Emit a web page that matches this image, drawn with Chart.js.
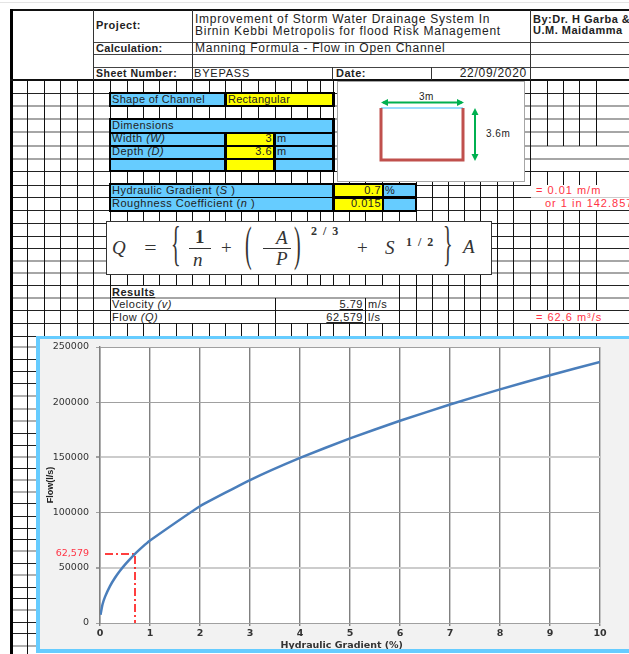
<!DOCTYPE html>
<html>
<head>
<meta charset="utf-8">
<title>Manning Formula - Flow in Open Channel</title>
<script src="https://cdn.jsdelivr.net/npm/chart.js@4"></script>
<style>
  html, body { margin: 0; padding: 0; background: #fff; overflow: hidden; }
  #sheet { position: relative; width: 629px; height: 654px; overflow: hidden; font-family: "Liberation Sans", Arial, sans-serif; color: #222; }
  #sheet div, #sheet span.t { position: absolute; white-space: nowrap; }
  #sheet span.t { font-size: 11px; letter-spacing: 0.5px; line-height: 14px; }
  #frame { left: 36px; top: 336px; width: 640px; height: 310px; border: 4px solid #66ccff; border-top-width: 3px; background: #f2f2f2; }
  #myChart { position: absolute; left: 0; top: 0; }
</style>
</head>
<body>
<div id="sheet"></div>
<script>
// chart data
let gradient = [0.01, 0.05, 0.1, 0.2, 0.3, 0.4, 0.5, 0.6, 0.7, 0.8, 0.9, 1, 2, 3, 4, 5, 6, 7, 8, 9, 10];
let flow = [7480, 16700, 23650, 33450, 41000, 47300, 52900, 57900, 62579, 66900, 70960, 74800, 105800, 129500, 149600, 167300, 183200, 197900, 211600, 224400, 236500];
let guideX = [0.1, 0.7, 0.7];
let guideY = [62579, 62579, 0];
let markerFlow = 62579;
let markerLabel = '62,579';

// sheet grid
let cols = [27, 44, 60, 77, 93, 110, 127, 143, 159, 176, 192, 209, 225, 241, 258, 275, 291, 307, 320, 333, 349, 365, 382, 399, 416, 432, 448, 464, 480, 497, 513, 530, 547, 563, 579, 596];
let rows = [93, 106, 119, 132, 146, 159, 171, 185, 197, 210, 223, 236, 248, 261, 273, 285, 298, 310, 323, 336];
let grayRows = [106, 119, 132, 146, 159, 261, 273, 298];
let sideRows = [347, 359, 371, 383, 396, 409, 421, 433, 445, 457, 468, 480, 492, 503, 516, 528, 539, 551, 563, 575, 587, 598, 610, 622, 633, 646];
let sideGray = [347, 396, 409, 421, 457, 480, 492, 551, 575, 610, 646];

let sheet = document.getElementById('sheet');

function box(x0, y0, x1, y1, color) {
  let d = document.createElement('div');
  d.style.cssText = 'left:' + x0 + 'px;top:' + y0 + 'px;width:' + (x1 - x0) + 'px;height:' + (y1 - y0) + 'px;background:' + color;
  sheet.appendChild(d);
  return d;
}

function text(x, y, str, css, right) {
  let s = document.createElement('span');
  s.className = 't';
  s.innerHTML = str;
  s.style.top = (y - 7) + 'px';
  if (right) s.style.right = (629 - x) + 'px'; else s.style.left = x + 'px';
  if (css) s.style.cssText += css;
  sheet.appendChild(s);
  return s;
}

function segmentsFor(x) {
  if ([547, 563, 579, 596].includes(x)) return [[80, 146], [171, 185], [210, 310], [323, 336]];
  if (x == 530) return [[80, 185], [210, 310], [323, 336]];
  if (x == 110) return [[80, 336]];
  if (x == 275) return [[80, 285], [298, 336]];
  if (x == 365) return [[80, 285], [298, 336]];
  if (x > 110 && x < 399) return [[80, 285], [323, 336]];
  return [[80, 336]];
}

rows.forEach(y => {
  let gray = grayRows.includes(y);
  box(13, y - (gray ? 1 : 0), 629, y + 1, gray ? '#a6a6a6' : '#222');
});
sideRows.forEach(y => {
  let gray = sideGray.includes(y);
  box(13, y - (gray ? 1 : 0), 40, y + 1, gray ? '#b0b0b0' : '#222');
});
cols.forEach(x => {
  segmentsFor(x).forEach(s => box(x, s[0], x + 1, s[1], '#111'));
});
box(27, 336, 28, 654, '#111');

// header block
box(0, 2, 629, 3, '#e4e4e4');
box(13, 11, 629, 80, '#fff');
box(10, 9, 629, 11, '#111');
box(10, 9, 13, 654, '#000');
box(10, 79, 629, 81, '#111');
[42, 54, 67].forEach(y => box(93, y, 629, y + 1, '#444'));
[93, 192, 530].forEach(x => box(x, 10, x + 1, 80, '#333'));
[332, 431].forEach(x => box(x, 67, x + 1, 80, '#333'));

let bold = 'font-weight:bold;';
let wide = 'font-size:12px;letter-spacing:0.73px;';
text(96, 25, 'Project:', bold);
text(96, 48, 'Calculation:', bold + 'letter-spacing:0.3px;');
text(96, 73, 'Sheet Number:', bold + 'font-size:10.5px;');
text(195, 19, 'Improvement of Storm Water Drainage System In', wide);
text(195, 31, 'Birnin Kebbi Metropolis for flood Risk Management', wide);
text(195, 48, 'Manning Formula - Flow in Open Channel', wide);
text(194, 73, 'BYEPASS', 'letter-spacing:0.8px;');
text(336, 73, 'Date:', bold);
text(527, 73, '22/09/2020', wide, true);
text(533, 19, 'By:Dr. H Garba &amp;', bold);
text(533, 30, 'U.M. Maidamma', bold);

// input tables
let blue = '#66ccff', yellow = '#ffff00';
box(109, 92, 335, 107, '#000');
box(111, 94, 224, 105, blue);
box(227, 94, 332, 105, yellow);
text(112, 99, 'Shape of Channel', 'letter-spacing:0.3px;');
text(228, 99, 'Rectangular', 'letter-spacing:0.25px;');

box(109, 118, 335, 172, '#000');
box(111, 120, 332, 132, blue);
[[134, 145], [147, 158], [160, 170]].forEach(r => {
  box(111, r[0], 224, r[1], blue);
  box(227, r[0], 273, r[1], yellow);
  box(276, r[0], 332, r[1], blue);
});
text(112, 125, 'Dimensions', 'letter-spacing:0.45px;');
text(112, 138, 'Width <i>(W)</i>');
text(112, 151, 'Depth <i>(D)</i>');
text(272, 138, '3', '', true);
text(272, 151, '3.6', '', true);
text(277, 138, 'm');
text(277, 151, 'm');

box(109, 183, 417, 212, '#000');
box(111, 185, 332, 197, blue);
box(111, 198, 332, 210, blue);
box(335, 185, 382, 196, yellow);
box(335, 199, 382, 210, yellow);
box(384, 185, 415, 196, blue);
box(384, 199, 415, 210, blue);
text(112, 190, 'Hydraulic Gradient (<i>S</i> )');
text(112, 203, 'Roughness Coefficient (<i>n</i> )');
text(381, 190, '0.7', '', true);
text(381, 203, '0.015', '', true);
text(385, 190, '%');

// red notes on the right
box(531, 185, 629, 210, '#fff');
box(531, 311, 629, 323, '#fff');
box(531, 197, 629, 198, '#cccccc');
let red = 'color:#ff3344;letter-spacing:1px;';
text(536, 190, '=  0.01   m/m', red);
text(545, 203, 'or 1 in  142.8571', red);
text(536, 317, '=  62.6   m\u00b3/s', red);

// results
text(112, 292, 'Results', bold + 'text-decoration:underline;');
text(112, 304, 'Velocity <i>(v)</i>');
text(112, 317, 'Flow <i>(Q)</i>');
text(363, 304, '5.79', 'text-decoration:underline;', true);
text(363, 317, '62,579', 'text-decoration:underline;', true);
text(368, 304, 'm/s');
text(368, 317, 'l/s');

// channel sketch
let sketch = document.createElement('div');
sketch.style.cssText = 'left:337px;top:81px;width:187px;height:100px;';
sketch.innerHTML = '<svg width="188" height="101" xmlns="http://www.w3.org/2000/svg">' +
  '<rect x="0.5" y="0.5" width="187" height="100" fill="#fff" stroke="#a6a6a6"/>' +
  '<path d="M44 27 H126" stroke="#99ddff" stroke-width="2"/>' +
  '<path d="M44 27 V79 H126 V27" fill="none" stroke="#c0504d" stroke-width="3"/>' +
  '<path d="M46 21.5 H125" stroke="#00b050" stroke-width="2"/>' +
  '<path d="M44 21.5 L51 18 V25 Z M127 21.5 L120 18 V25 Z" fill="#00b050"/>' +
  '<path d="M138 30 V77" stroke="#00b050" stroke-width="2"/>' +
  '<path d="M138 27 L134.5 34 H141.5 Z M138 80 L134.5 73 H141.5 Z" fill="#00b050"/>' +
  '</svg>';
sheet.appendChild(sketch);
text(419, 97, '3m', 'font-size:10px;');
text(486, 134, '3.6m', 'font-size:10px;');

// formula box
box(106, 221, 492, 275, '#333');
box(107, 222, 491, 274, '#fff');
function mathText(x, y, str, css) {
  return text(x, y, str, 'font-family:\'Liberation Serif\',serif;letter-spacing:0;color:#333;' + (css || ''));
}
let big = 'font-size:19px;';
mathText(112, 248, 'Q', big + 'font-style:italic;');
mathText(145, 248, '=', big + 'transform:scaleX(1.15);');
mathText(171, 243, '{', 'font-size:20px;transform:scale(1,2.4);');
mathText(195, 237, '1', big + 'font-weight:bold;');
box(189, 248, 211, 249, '#333');
mathText(193, 260, 'n', big + 'font-style:italic;');
mathText(221, 248, '+', big);
mathText(245, 243, '(', 'font-size:20px;transform:scale(1,2.4);');
mathText(276, 238, 'A', big + 'font-style:italic;');
box(263, 248, 291, 249, '#333');
mathText(276, 259, 'P', big + 'font-style:italic;');
mathText(294, 243, ')', 'font-size:20px;transform:scale(1,2.4);');
mathText(311, 231, '2 &nbsp;/ &nbsp;3', 'font-size:12px;font-weight:bold;');
mathText(357, 248, '+', big);
mathText(385, 248, 'S', big + 'font-style:italic;');
mathText(406, 242, '1 &nbsp;/ &nbsp;2', 'font-size:12px;font-weight:bold;');
mathText(443, 243, '}', 'font-size:20px;transform:scale(1,2.4);');
mathText(463, 247, 'A', big + 'font-style:italic;');

// chart frame
let frame = document.createElement('div');
frame.id = 'frame';
frame.innerHTML = '<canvas id="myChart" width="589" height="310"></canvas>';
sheet.appendChild(frame);

let mychart = document.getElementById('myChart');

let isLight = c => c.tick.value == 50000 || c.tick.value == 150000;

let chart = new Chart(mychart, {
  type: 'line',
  data: {
    datasets: [
      {
        label: 'Flow',
        data: gradient.map((g, i) => ({ x: g, y: flow[i] })),
        borderColor: '#4a7ebb',
        borderWidth: 2.5,
        tension: 0.12,
        pointRadius: 0
      },
      {
        label: 'Design',
        data: guideX.map((g, i) => ({ x: g, y: guideY[i] })),
        borderColor: '#ff0000',
        borderWidth: 1.5,
        borderDash: [8, 3, 2, 3],
        pointRadius: 0
      }
    ]
  },
  options: {
    responsive: false,
    animation: false,
    devicePixelRatio: 1,
    layout: { padding: { top: 8, right: 29, left: 0, bottom: 0 } },
    plugins: { legend: { display: false }, tooltip: { enabled: false } },
    scales: {
      x: {
        type: 'linear',
        min: 0,
        max: 10,
        afterFit: s => { s.height = 26; s.paddingLeft = 0; s.paddingRight = 0; },
        ticks: { stepSize: 1, padding: 2, color: '#333', font: { family: 'DejaVu Sans', size: 9.5, weight: 'bold' }, maxRotation: 0 },
        grid: { color: '#808080', lineWidth: 1.4, tickLength: 3, tickColor: '#808080' },
        border: { color: '#a0a0a0' },
        title: {
          display: true,
          text: 'Hydraulic Gradient (%)\u00a0\u00a0\u00a0\u00a0\u00a0',
          color: '#333',
          font: { family: 'DejaVu Sans', size: 9.5, weight: 'bold' },
          padding: { top: 0, bottom: -2 }
        }
      },
      y: {
        min: 0,
        max: 250000,
        afterFit: s => { s.width = 60; s.paddingTop = 0; s.paddingBottom = 0; },
        afterBuildTicks: s => {
          s.ticks.push({ value: markerFlow });
          s.ticks.sort((a, b) => a.value - b.value);
        },
        ticks: {
          stepSize: 50000,
          autoSkip: false,
          padding: 7,
          font: { family: 'DejaVu Sans', size: 9.5 },
          color: c => (c.tick.value == markerFlow ? '#ff3344' : '#333'),
          callback: v => (v == markerFlow ? markerLabel : String(v))
        },
        grid: {
          tickLength: 4,
          lineWidth: c => (isLight(c) ? 2 : 1),
          color: c => {
            if (c.tick.value == markerFlow) return 'rgba(0,0,0,0)';
            return isLight(c) ? '#cccccc' : '#a0a0a0';
          },
          tickColor: c => (c.tick.value == markerFlow ? 'rgba(0,0,0,0)' : '#a0a0a0')
        },
        border: { color: '#808080', width: 1.4 },
        title: {
          display: true,
          text: 'Flow(l/s)',
          color: '#222',
          font: { family: 'Liberation Sans', size: 9, weight: 'bold' },
          padding: { top: 5, bottom: 0 }
        }
      }
    }
  },
  plugins: [{
    id: 'plotWhite',
    beforeDraw(c) {
      let a = c.chartArea;
      c.ctx.save();
      c.ctx.fillStyle = '#fff';
      c.ctx.fillRect(a.left, a.top, a.width, a.height);
      c.ctx.restore();
    }
  }]
});
</script>
</body>
</html>
